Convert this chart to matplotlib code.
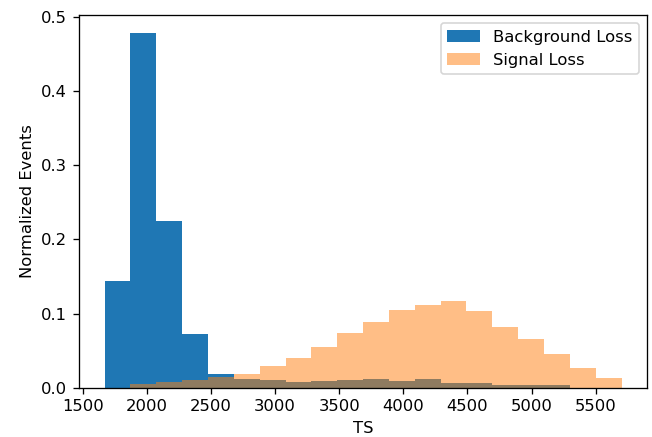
import numpy as np
import matplotlib

matplotlib.use("Agg")
import matplotlib.pyplot as plt

# shared bin layout for both histograms (TS)
ts_lo = 1670
ts_hi = 5702
n_bins = 20

# normalized events per bin
background = [0.144, 0.479, 0.225, 0.0725, 0.0185, 0.0118, 0.0104, 0.0073,
              0.009, 0.0104, 0.0113, 0.009, 0.0113, 0.006, 0.006, 0.0037,
              0.0035, 0.0035, 0.0, 0.0]
signal = [0.0, 0.005, 0.0081, 0.0104, 0.0149, 0.0185, 0.0293, 0.040,
          0.0545, 0.074, 0.089, 0.105, 0.112, 0.1166, 0.103, 0.082,
          0.0658, 0.045, 0.0266, 0.0127]

edges = np.linspace(ts_lo, ts_hi, n_bins + 1)
centers = 0.5 * (edges[:-1] + edges[1:])

dpi = 118
fig, ax = plt.subplots(figsize=(652 / dpi, 437 / dpi), dpi=dpi)
fig.subplots_adjust(left=0.1207, right=0.993, top=0.9657, bottom=0.1128)

ax.hist(centers, bins=edges, weights=background, label="Background Loss")
ax.hist(centers, bins=edges, weights=signal, alpha=0.5, label="Signal Loss")

ax.set_xlabel("TS")
ax.set_ylabel("Normalized Events")
ax.legend(loc="upper right")

fig.savefig("out.png", dpi=dpi)
